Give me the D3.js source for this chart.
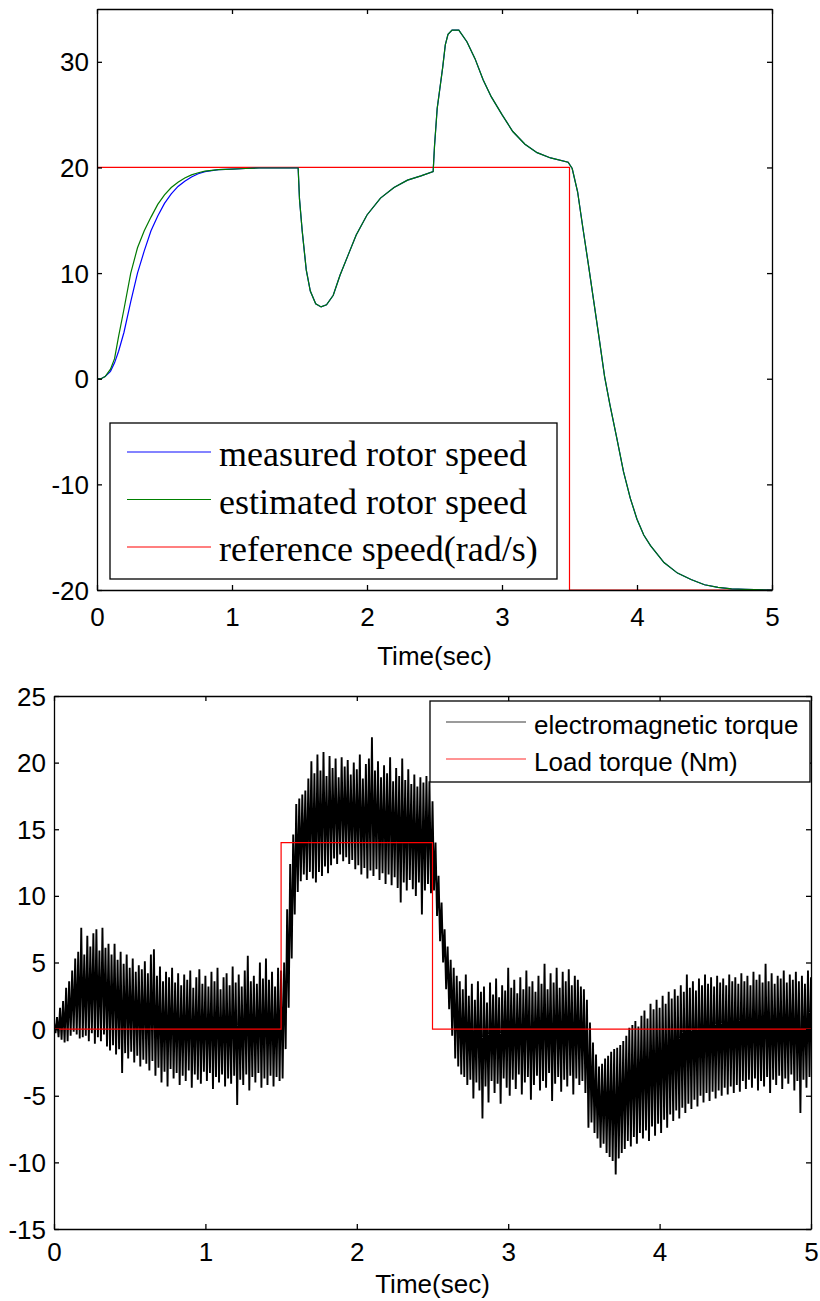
<!DOCTYPE html>
<html>
<head>
<meta charset="utf-8">
<script src="https://cdn.jsdelivr.net/npm/d3@7"></script>
<style>
  body { margin: 0; background: #fff; }
  svg { display: block; }
</style>
</head>
<body>
<div id="chart"></div>
<script>
const width = 820;
const height = 1301;

// ---- top panel: rotor speed ----
const speedTime = [
  0, 0.03, 0.06, 0.1, 0.13, 0.16, 0.2, 0.25, 0.3, 0.35,
  0.4, 0.45, 0.5, 0.55, 0.6, 0.65, 0.7, 0.75, 0.8, 0.9,
  1.0, 1.1, 1.2, 1.3, 1.4, 1.49, 1.5, 1.52, 1.55, 1.58,
  1.62, 1.66, 1.7, 1.75, 1.8, 1.86, 1.92, 2.0, 2.1, 2.2,
  2.3, 2.4, 2.49, 2.5, 2.52, 2.54, 2.56, 2.58, 2.6, 2.63,
  2.68, 2.74, 2.8, 2.86, 2.92, 3.0, 3.08, 3.17, 3.26, 3.36,
  3.49, 3.52, 3.56, 3.6, 3.64, 3.68, 3.72, 3.76, 3.8, 3.85,
  3.9, 3.95, 4.0, 4.05, 4.1, 4.2, 4.3, 4.4, 4.5, 4.6,
  4.7, 4.8, 5.0
];
const measuredSpeed = [
  0, 0, 0.2, 0.7, 1.5, 2.6, 4.4, 7.3, 10.0, 12.1,
  14.0, 15.4, 16.6, 17.5, 18.2, 18.7, 19.1, 19.4, 19.6, 19.8,
  19.85, 19.9, 19.95, 19.95, 19.95, 19.95, 17.0, 14.0, 10.3, 8.3,
  7.1, 6.8, 7.0, 7.9, 9.8, 11.7, 13.6, 15.5, 17.1, 18.1,
  18.8, 19.2, 19.6, 22.0, 25.6, 27.5, 29.4, 31.6, 32.6, 33.0,
  33.0, 31.9, 30.3, 28.3, 26.7, 25.0, 23.4, 22.2, 21.4, 20.9,
  20.5, 19.9, 17.7, 14.2, 10.8, 7.3, 3.8, 0.2, -2.5, -5.6,
  -8.8, -11.3, -13.3, -14.8, -15.8, -17.4, -18.4, -19.0, -19.5, -19.75,
  -19.9, -19.95, -20
];
const estimatedSpeed = [
  0, 0, 0.2, 0.9, 1.9, 4.0, 6.6, 10.0, 12.4, 14.0,
  15.3, 16.5, 17.4, 18.1, 18.6, 19.0, 19.3, 19.5, 19.65, 19.8,
  19.85, 19.9, 19.95, 19.95, 19.95, 19.95, 17.0, 14.0, 10.3, 8.3,
  7.1, 6.8, 7.0, 7.9, 9.8, 11.7, 13.6, 15.5, 17.1, 18.1,
  18.8, 19.2, 19.6, 22.0, 25.6, 27.5, 29.4, 31.6, 32.6, 33.0,
  33.0, 31.9, 30.3, 28.3, 26.7, 25.0, 23.4, 22.2, 21.4, 20.9,
  20.5, 19.9, 17.7, 14.2, 10.8, 7.3, 3.8, 0.2, -2.5, -5.6,
  -8.8, -11.3, -13.3, -14.8, -15.8, -17.4, -18.4, -19.0, -19.5, -19.75,
  -19.9, -19.95, -20
];
const refTime = [0, 3.5, 3.5, 5];
const refSpeed = [20, 20, -20, -20];
const speedTicks = [-20, -10, 0, 10, 20, 30];
const speedLegend = ['measured rotor speed', 'estimated rotor speed', 'reference speed(rad/s)'];

// ---- bottom panel: torque ----
// envelope of the oscillating torque, one high/low pair every 0.02 s
const torqueStep = 0.02;
const torqueHigh = [
  0.5, 0.9, 1.6, 2.1, 3.1, 3.6, 4.4, 5.3, 5.8, 7.6,
  5.6, 7.0, 6.2, 7.2, 7.5, 5.9, 7.6, 6.1, 6.4, 5.6,
  6.4, 5.2, 5.8, 4.9, 5.6, 4.6, 5.3, 4.3, 4.8, 4.5,
  5.1, 4.2, 5.6, 6.0, 4.0, 4.7, 3.6, 4.3, 3.9, 4.6,
  3.5, 4.2, 3.3, 4.1, 3.7, 4.4, 3.1, 3.9, 4.5, 3.4,
  4.0, 3.2, 4.3, 3.6, 4.6, 3.0, 3.9, 4.2, 3.3, 4.7,
  3.5, 4.1, 3.2, 4.4, 5.5, 3.6, 4.0, 3.4, 5.0, 3.8,
  5.3, 3.7, 4.3, 3.2, 4.6, 4.4, 5.0, 9.0, 12.4, 14.6,
  16.9, 17.3, 17.6, 17.9, 18.8, 20.1, 19.2, 20.6, 19.4, 20.8,
  19.0, 20.5, 19.6, 20.3, 18.9, 20.4, 19.7, 20.2, 19.1, 20.0,
  19.5, 20.6, 18.8, 19.9, 20.3, 21.9, 19.4, 20.1, 18.9, 19.8,
  19.2, 20.4, 18.6, 19.6, 19.0, 20.3, 18.7, 19.5, 18.4, 19.1,
  18.2, 18.9, 18.5, 19.0, 18.6, 17.1, 14.0, 11.5, 9.5, 7.5,
  6.2, 5.2, 4.6, 4.0, 3.6, 3.0, 4.1, 2.5, 3.4, 2.2,
  3.6, 2.8, 3.2, 2.0, 3.5, 2.6, 3.8, 2.4, 3.3, 2.9,
  4.6, 3.1, 3.7, 2.7, 3.9, 3.0, 4.4, 3.2, 3.6, 2.8,
  4.0, 3.4, 4.9, 3.0, 4.2, 3.5, 4.6, 3.1, 4.3, 3.6,
  4.5, 3.3, 4.0, 3.7, 3.2, 3.0, 2.2, 0.5, -1.0, -1.9,
  -2.8, -2.6, -2.2, -2.0, -1.7, -1.5, -1.4, -1.2, -0.9, -0.5,
  0.1, 0.3, 0.6, 0.2, 1.0, 1.4, 0.8, 1.9, 1.5, 2.2,
  1.6, 2.5, 1.9, 2.8, 2.3, 3.0, 2.5, 3.3, 2.8, 4.1,
  3.1, 3.6, 2.9, 3.8, 3.3, 4.1, 3.4, 3.9, 3.2, 4.0,
  3.5, 3.8, 3.3, 4.1, 3.6, 3.9, 3.4, 4.2, 3.6, 4.0,
  3.3, 4.3, 3.7, 4.1, 3.5, 4.9, 3.6, 4.2, 3.4, 4.0,
  3.8, 4.4, 3.5, 4.1, 3.7, 4.3, 3.6, 4.0, 3.4, 4.4,
  3.9
];
const torqueLow = [
  -0.3, -0.6, -0.8, -1.0, -0.9, -0.5, -0.2, -0.4, -0.7, -0.6,
  -0.5, -0.9, -0.3, -1.1, -0.6, -0.9, -0.4, -1.3, -1.6, -1.2,
  -1.9, -1.5, -3.3, -1.8, -2.2, -1.7, -2.5, -2.0, -2.8, -2.3,
  -2.6, -3.1, -2.4, -3.5, -2.9, -4.0, -3.2, -4.3, -3.0, -3.7,
  -3.3, -4.2, -3.5, -3.9, -3.1, -4.4, -3.4, -3.8, -4.1, -3.2,
  -3.9, -3.3, -4.5, -3.6, -4.0, -3.4, -4.3, -3.7, -4.1, -3.5,
  -5.7, -3.8, -4.2, -3.4, -4.6, -3.6, -4.0, -3.3, -4.4, -3.7,
  -4.2, -3.5, -4.3, -3.6, -3.9, -3.7, -1.5, 1.6, 5.3, 8.6,
  10.3, 11.1, 11.6, 11.2, 11.8, 11.3, 11.0, 11.8, 11.5, 12.2,
  11.7, 12.3, 12.8, 12.4, 13.1, 12.6, 12.9, 12.4, 12.7, 12.0,
  12.3, 11.6, 12.1, 11.3, 11.9, 11.5, 12.0, 11.2, 11.7, 10.9,
  11.6, 10.8, 11.4, 10.6, 9.5, 11.0, 10.4, 11.2, 10.5, 10.0,
  11.0, 8.6, 10.4, 10.9, 10.2, 10.4, 8.5, 6.6, 5.0, 3.0,
  1.5, -0.5, -2.2, -2.8, -3.4, -3.6, -4.2, -3.8, -5.2, -4.0,
  -4.6, -6.7, -4.3, -5.5, -3.9, -4.8, -4.1, -5.6, -3.7, -4.4,
  -5.0, -3.8, -4.5, -3.4, -4.9, -4.0, -3.6, -5.3, -4.2, -3.5,
  -4.6, -3.9, -4.4, -3.3, -5.4, -4.1, -3.6, -4.7, -3.8, -4.3,
  -3.5, -4.9, -3.7, -4.2, -3.9, -4.8, -7.4, -7.0, -7.8, -8.2,
  -8.9, -8.6, -9.3, -9.6, -9.9, -10.9, -9.7, -9.3, -9.0, -8.4,
  -8.8, -8.1, -8.6, -7.8, -8.2, -7.6, -8.4, -7.3, -8.0, -7.1,
  -7.8, -6.8, -7.4, -6.4, -6.9, -6.1, -6.7, -5.9, -6.3, -5.6,
  -6.0, -5.3, -5.8, -5.0, -5.5, -4.8, -5.4, -4.7, -5.2, -4.6,
  -5.0, -4.4, -4.9, -4.3, -4.8, -4.2, -4.7, -3.9, -4.5, -3.8,
  -4.4, -3.7, -4.6, -3.9, -4.3, -3.6, -4.8, -3.8, -4.2, -3.5,
  -4.5, -3.7, -4.1, -3.4, -4.6, -3.9, -6.3, -3.8, -4.4, -3.6,
  -4.9
];
const loadTime = [0, 1.5, 1.5, 2.5, 2.5, 5];
const loadTorque = [0, 0, 14, 14, 0, 0];
const torqueTicks = [-15, -10, -5, 0, 5, 10, 15, 20, 25];
const torqueLegend = ['electromagnetic torque', 'Load torque (Nm)'];

const timeTicks = [0, 1, 2, 3, 4, 5];

const sansFont = '"Liberation Sans", Arial, sans-serif';
const serifFont = '"Liberation Serif", "Times New Roman", serif';

const svg = d3.select('#chart')
  .append('svg')
  .attr('width', width)
  .attr('height', height);

// plain integer labels with an ascii hyphen, like the original figure
const plainNum = d => String(d);

// draws a MATLAB-like boxed axes with inward ticks on every side
function drawFrame(g, x, y, yTicks, opts) {
  const [x0, x1] = x.range();
  const [y0, y1] = y.range();
  const tick = -5;

  const left = g.append('g')
    .attr('transform', `translate(${x0},0)`)
    .call(d3.axisLeft(y).tickValues(yTicks).tickFormat(plainNum)
      .tickSize(tick).tickSizeOuter(0).tickPadding(8));
  const bottom = g.append('g')
    .attr('transform', `translate(0,${y0})`)
    .call(d3.axisBottom(x).tickValues(timeTicks).tickFormat(plainNum)
      .tickSize(tick).tickSizeOuter(0).tickPadding(opts.xPad));
  g.append('g')
    .attr('transform', `translate(${x1},0)`)
    .call(d3.axisRight(y).tickValues(yTicks).tickSize(tick).tickSizeOuter(0).tickFormat(''));
  g.append('g')
    .attr('transform', `translate(0,${y1})`)
    .call(d3.axisTop(x).tickValues(timeTicks).tickSize(tick).tickSizeOuter(0).tickFormat(''));

  g.selectAll('.domain').attr('stroke', '#000').attr('stroke-width', 1.3);
  g.selectAll('.tick line').attr('stroke', '#000').attr('stroke-width', 1.3);
  [left, bottom].forEach(a => a.selectAll('.tick text')
    .attr('fill', '#000')
    .style('font-family', sansFont)
    .style('font-size', '26px'));
  left.selectAll('.tick text').attr('dy', '0.35em');

  g.append('text')
    .attr('x', (x0 + x1) / 2)
    .attr('y', opts.labelY)
    .attr('text-anchor', 'middle')
    .style('font-family', sansFont)
    .style('font-size', '26px')
    .text('Time(sec)');
}

// ---------- top chart ----------
const topBox = { left: 97, right: 772, top: 9, bottom: 590 };
const xs = d3.scaleLinear().domain([0, 5]).range([topBox.left, topBox.right]);
const ys = d3.scaleLinear().domain([-20, 35]).range([topBox.bottom, topBox.top]);

const gTop = svg.append('g');
svg.append('clipPath').attr('id', 'clipTop')
  .append('rect')
  .attr('x', topBox.left).attr('y', topBox.top)
  .attr('width', topBox.right - topBox.left).attr('height', topBox.bottom - topBox.top + 1);

const speedLine = d3.line().x(d => xs(d[0])).y(d => ys(d[1]));
const plotTop = gTop.append('g').attr('clip-path', 'url(#clipTop)');

plotTop.append('path')
  .datum(refTime.map((t, i) => [t, refSpeed[i]]))
  .attr('d', speedLine)
  .attr('fill', 'none').attr('stroke', '#ff0000').attr('stroke-width', 1.2);
plotTop.append('path')
  .datum(speedTime.map((t, i) => [t, measuredSpeed[i]]))
  .attr('d', speedLine)
  .attr('fill', 'none').attr('stroke', '#0000ff').attr('stroke-width', 1.2);
plotTop.append('path')
  .datum(speedTime.map((t, i) => [t, estimatedSpeed[i]]))
  .attr('d', speedLine)
  .attr('fill', 'none').attr('stroke', '#007a00').attr('stroke-width', 1.2);

drawFrame(gTop, xs, ys, speedTicks, { xPad: 18, labelY: 665 });

// legend (top)
const legTop = gTop.append('g').attr('transform', 'translate(110,423)');
legTop.append('rect')
  .attr('width', 447).attr('height', 156)
  .attr('fill', '#fff').attr('stroke', '#000').attr('stroke-width', 1.3);
const speedColors = ['#5a5aff', '#008000', '#ff0000'];
speedLegend.forEach((label, i) => {
  const yy = 29 + i * 47.5;
  legTop.append('line')
    .attr('x1', 17).attr('x2', 101).attr('y1', yy).attr('y2', yy)
    .attr('stroke', speedColors[i]).attr('stroke-width', i === 0 ? 1.6 : 1.2);
  legTop.append('text')
    .attr('x', 109).attr('y', yy + 14)
    .style('font-family', serifFont)
    .style('font-size', '36px')
    .text(label);
});

// ---------- bottom chart ----------
const botBox = { left: 54, right: 811, top: 696, bottom: 1229 };
const xt = d3.scaleLinear().domain([0, 5]).range([botBox.left, botBox.right]);
const yt = d3.scaleLinear().domain([-15, 25]).range([botBox.bottom, botBox.top]);

const gBot = svg.append('g');
svg.append('clipPath').attr('id', 'clipBot')
  .append('rect')
  .attr('x', botBox.left).attr('y', botBox.top)
  .attr('width', botBox.right - botBox.left).attr('height', botBox.bottom - botBox.top);
const plotBot = gBot.append('g').attr('clip-path', 'url(#clipBot)');

// oscillation: swing from each high sample to its low half a step later
const torquePts = [];
torqueHigh.forEach((h, i) => {
  const t = i * torqueStep;
  torquePts.push([t, h]);
  if (i < torqueHigh.length - 1) torquePts.push([t + torqueStep / 2, torqueLow[i]]);
});
const torqueLine = d3.line().x(d => xt(d[0])).y(d => yt(d[1]));
plotBot.append('path')
  .datum(torquePts)
  .attr('d', torqueLine)
  .attr('fill', 'none').attr('stroke', '#000').attr('stroke-width', 1.9)
  .attr('stroke-linejoin', 'miter').attr('stroke-miterlimit', 1);
plotBot.append('path')
  .datum(loadTime.map((t, i) => [t, loadTorque[i]]))
  .attr('d', torqueLine)
  .attr('fill', 'none').attr('stroke', '#ff0000').attr('stroke-width', 1.2);

drawFrame(gBot, xt, yt, torqueTicks, { xPad: 14, labelY: 1293 });

// legend (bottom)
const legBot = gBot.append('g').attr('transform', 'translate(430,701)');
legBot.append('rect')
  .attr('width', 380).attr('height', 81)
  .attr('fill', '#fff').attr('stroke', '#000').attr('stroke-width', 1.3);
const torqueColors = ['#7a7a7a', '#ff7070'];
torqueLegend.forEach((label, i) => {
  const yy = 21 + i * 37;
  legBot.append('line')
    .attr('x1', 16).attr('x2', 96).attr('y1', yy).attr('y2', yy)
    .attr('stroke', torqueColors[i]).attr('stroke-width', 1.3);
  legBot.append('text')
    .attr('x', 104).attr('y', yy + 12)
    .style('font-family', sansFont)
    .style('font-size', '26px')
    .text(label);
});
</script>
</body>
</html>
